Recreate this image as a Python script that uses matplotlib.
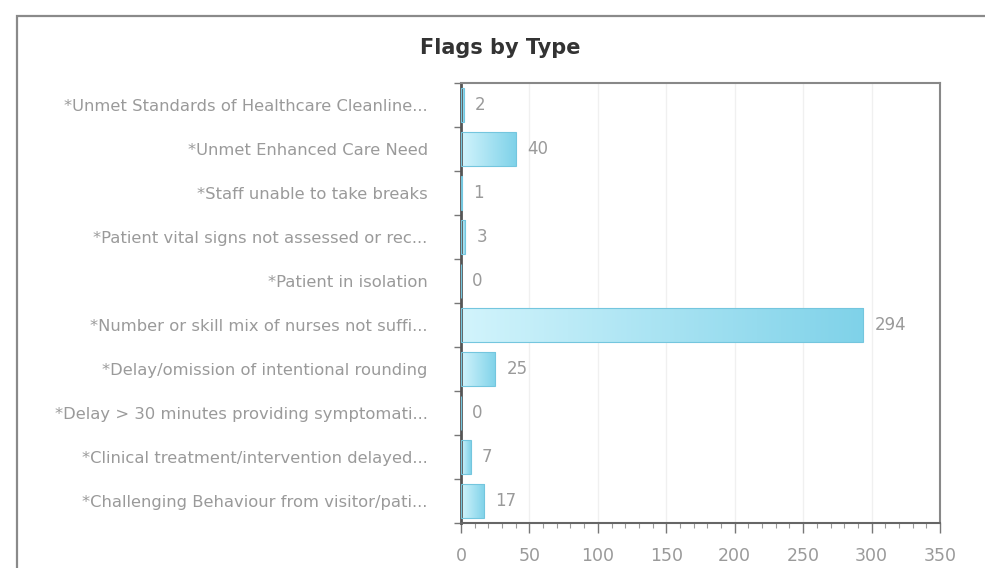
import numpy as np
import matplotlib.pyplot as plt
from matplotlib.patches import Rectangle
from matplotlib.colors import LinearSegmentedColormap
from matplotlib.ticker import MultipleLocator, FixedLocator

# flag categories, top to bottom as shown
categories = [
    "*Unmet Standards of Healthcare Cleanline...",
    "*Unmet Enhanced Care Need",
    "*Staff unable to take breaks",
    "*Patient vital signs not assessed or rec...",
    "*Patient in isolation",
    "*Number or skill mix of nurses not suffi...",
    "*Delay/omission of intentional rounding",
    "*Delay > 30 minutes providing symptomati...",
    "*Clinical treatment/intervention delayed...",
    "*Challenging Behaviour from visitor/pati...",
]
counts = [2, 40, 1, 3, 0, 294, 25, 0, 7, 17]
x_ticks = [0, 50, 100, 150, 200, 250, 300, 350]

label_grey = '#9a9a9a'
bar_cmap = LinearSegmentedColormap.from_list('bar', ['#d2f4fc', '#7fd2e9'])

fig = plt.figure(figsize=(9.85, 5.68), dpi=100)
ax = fig.add_axes([461/985, 1 - 523/568, (940-461)/985, (523-83)/568])

# outer panel frame
fig.add_artist(Rectangle((17/985, -0.1), 1.2, 1.1 - 16/568, transform=fig.transFigure,
                         fill=False, edgecolor='#8a8a8a', linewidth=1.6))

y = np.arange(len(categories))
bar_h = 0.78
bars = ax.barh(y, counts, height=bar_h, color='none', edgecolor='#74c6de',
               linewidth=0.8, zorder=3)

grad = np.linspace(0, 1, 256).reshape(1, -1)
for b, v in zip(bars, counts):
    if v <= 0:
        continue
    x0, y0 = b.get_x(), b.get_y()
    im = ax.imshow(grad, cmap=bar_cmap, aspect='auto', zorder=2,
                   extent=[x0, x0 + b.get_width(), y0 + b.get_height(), y0])
    im.set_clip_path(b)

for yi, v in zip(y, counts):
    ax.annotate(str(v), (v, yi), xytext=(8, 0), textcoords='offset points',
                va='center', ha='left', color=label_grey, fontsize=12,
                family='DejaVu Sans')

ax.set_xlim(0, 350)
ax.set_ylim(len(categories) - 0.5, -0.5)

ax.xaxis.set_major_locator(FixedLocator(x_ticks))
ax.xaxis.set_minor_locator(MultipleLocator(10))
ax.tick_params(axis='x', which='major', direction='out', length=7, width=1,
               color='#777777', labelcolor=label_grey, labelsize=12.5, pad=10)
ax.tick_params(axis='x', which='minor', direction='out', length=3.5, width=0.8,
               color='#999999')

ax.set_yticks(y)
ax.set_yticklabels(categories, family='DejaVu Sans', fontsize=11.8,
                   color=label_grey)
ax.yaxis.set_minor_locator(FixedLocator(np.arange(-0.5, len(categories), 1)))
ax.tick_params(axis='y', which='major', length=0, pad=24)
ax.tick_params(axis='y', which='minor', direction='out', length=5, width=1,
               color='#777777')

ax.grid(axis='x', which='major', color='#f0f0f0', linewidth=1, zorder=0)
ax.set_axisbelow(True)

ax.spines['left'].set_color('#555555')
ax.spines['left'].set_linewidth(2)
ax.spines['bottom'].set_color('#666666')
ax.spines['bottom'].set_linewidth(1.5)
ax.spines['top'].set_color('#888888')
ax.spines['top'].set_linewidth(1.5)
ax.spines['right'].set_color('#888888')
ax.spines['right'].set_linewidth(1.5)

fig.text(500/985, 1 - 48/568, 'Flags by Type', ha='center', va='center',
         fontsize=15, fontweight='bold', color='#333333', family='DejaVu Sans')

fig.savefig('out.png', dpi=100)
